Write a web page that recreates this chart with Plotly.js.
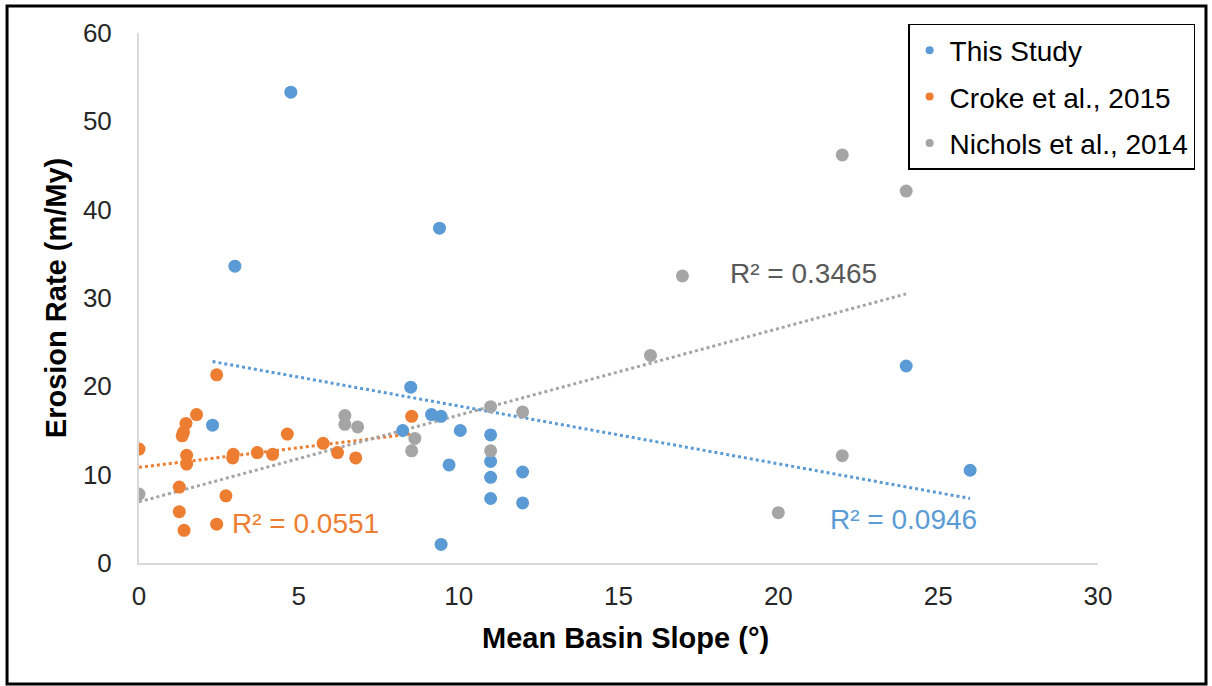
<!DOCTYPE html>
<html>
<head>
<meta charset="utf-8">
<script src="https://cdn.plot.ly/plotly-3.0.1.min.js"></script>
<style>
  html, body { margin: 0; padding: 0; background: #fff; }
  #chart { width: 1212px; height: 686px; }
</style>
</head>
<body>
<div id="chart"></div>
<script>
// ---- Data ----
const seriesNames = ["This Study", "Croke et al., 2015", "Nichols et al., 2014"];
const seriesColors = ["#5B9BD5", "#ED7D31", "#A5A5A5"];

const thisStudyX = [4.75, 3.0, 9.4, 2.3, 8.5, 8.25, 9.15, 9.45, 10.05, 11.0, 9.7, 11.0, 11.0, 12.0, 11.0, 12.0, 9.45, 24.0, 26.0];
const thisStudyY = [53.3, 33.6, 37.9, 15.6, 19.9, 15.0, 16.8, 16.6, 15.0, 14.5, 11.1, 11.5, 9.7, 10.3, 7.3, 6.8, 2.1, 22.3, 10.5];

const crokeX = [0, 2.43, 1.8, 1.47, 1.39, 1.35, 1.49, 1.49, 2.95, 2.93, 3.7, 4.18, 4.64, 5.76, 6.21, 6.78, 8.53, 1.26, 2.72, 1.26, 1.41, 2.43];
const crokeY = [12.9, 21.3, 16.8, 15.8, 14.8, 14.4, 12.2, 11.2, 12.3, 11.9, 12.5, 12.3, 14.6, 13.55, 12.5, 11.9, 16.6, 8.6, 7.6, 5.8, 3.7, 4.4];

const nicholsX = [0, 6.44, 6.44, 6.84, 8.63, 8.53, 11.0, 12.0, 11.0, 22.0, 24.0, 17.0, 16.0, 22.0, 20.0];
const nicholsY = [7.8, 16.7, 15.7, 15.4, 14.1, 12.7, 17.7, 17.1, 12.7, 46.2, 42.1, 32.5, 23.5, 12.15, 5.7];

const r2Labels = ["R\u00b2 = 0.0946", "R\u00b2 = 0.0551", "R\u00b2 = 0.3465"];
const r2LabelX = [23.9, 5.22, 20.78];
const r2LabelY = [4.9, 4.5, 32.8];
const r2LabelColors = ["#5B9BD5", "#ED7D31", "#595959"];

const xTitle = "Mean Basin Slope (\u00b0)";
const yTitle = "Erosion Rate (m/My)";
const xTickVals = [0, 5, 10, 15, 20, 25, 30];
const yTickVals = [0, 10, 20, 30, 40, 50, 60];

// ---- Build traces ----
const allX = [thisStudyX, crokeX, nicholsX];
const allY = [thisStudyY, crokeY, nicholsY];

function linearFit(xs, ys) {
  const n = xs.length;
  const mx = xs.reduce((a, b) => a + b, 0) / n;
  const my = ys.reduce((a, b) => a + b, 0) / n;
  let sxy = 0, sxx = 0;
  for (let i = 0; i < n; i++) {
    sxy += (xs[i] - mx) * (ys[i] - my);
    sxx += (xs[i] - mx) * (xs[i] - mx);
  }
  const slope = sxy / sxx;
  return { slope: slope, intercept: my - slope * mx };
}

const traces = [];
// trendlines first (drawn under markers)
for (let s = 0; s < 3; s++) {
  const fit = linearFit(allX[s], allY[s]);
  const x0 = Math.min(...allX[s]);
  const x1 = Math.max(...allX[s]);
  traces.push({
    type: "scatter", mode: "lines",
    x: [x0, x1],
    y: [fit.intercept + fit.slope * x0, fit.intercept + fit.slope * x1],
    line: { color: seriesColors[s], width: 3, dash: "dot" },
    showlegend: false, hoverinfo: "skip"
  });
}
for (let s = 0; s < 3; s++) {
  traces.push({
    type: "scatter", mode: "markers",
    x: allX[s], y: allY[s],
    name: seriesNames[s],
    marker: { color: seriesColors[s], size: 13 },
    showlegend: false
  });
}
// legend entries (small markers like the reference)
for (let s = 0; s < 3; s++) {
  traces.push({
    type: "scatter", mode: "markers",
    x: [null], y: [null],
    name: seriesNames[s],
    legendgroup: "g" + s,
    marker: { color: seriesColors[s], size: 8 },
    showlegend: true
  });
}

const annotations = r2Labels.map((t, i) => ({
  x: r2LabelX[i], y: r2LabelY[i], xref: "x", yref: "y",
  text: t, showarrow: false,
  font: { size: 28, color: r2LabelColors[i], family: "Liberation Sans, Arial, sans-serif" }
}));
annotations.push({
  x: 0.507, y: -0.1415, xref: "paper", yref: "paper",
  xanchor: "center", yanchor: "middle",
  text: xTitle, showarrow: false,
  font: { size: 29, color: "#000000", weight: "bold", family: "Liberation Sans, Arial, sans-serif" }
});

const layout = {
  width: 1212, height: 686,
  margin: { l: 139, r: 114, t: 33, b: 123 },
  paper_bgcolor: "#ffffff", plot_bgcolor: "#ffffff",
  font: { family: "Liberation Sans, Arial, sans-serif", color: "#262626" },
  showlegend: true,
  legend: {
    x: 0.802, xanchor: "left", y: 1.017, yanchor: "top",
    bgcolor: "#ffffff", bordercolor: "#000000", borderwidth: 1.5,
    font: { size: 28, color: "#000000" },
    traceorder: "grouped", tracegroupgap: 7
  },
  xaxis: {
    range: [0, 30], tickvals: xTickVals, ticks: "",
    showline: true, linecolor: "#D9D9D9", linewidth: 2,
    showgrid: false, zeroline: false,
    tickfont: { size: 26, color: "#262626" },
    ticklabelstandoff: 9,
    automargin: false
  },
  yaxis: {
    range: [0, 60], tickvals: yTickVals, ticks: "",
    showline: true, linecolor: "#D9D9D9", linewidth: 2,
    showgrid: false, zeroline: false,
    tickfont: { size: 26, color: "#262626" },
    ticklabelstandoff: 20,
    title: { text: yTitle, standoff: 8,
             font: { size: 29, color: "#000000", weight: "bold" } },
    automargin: false
  },
  annotations: annotations,
  shapes: [{
    type: "rect", xref: "paper", yref: "paper",
    x0: -0.1376, x1: 1.1126, y0: -0.2283, y1: 1.051,
    line: { color: "#000000", width: 3 }, fillcolor: "rgba(0,0,0,0)",
    layer: "above"
  }]
};

Plotly.newPlot("chart", traces, layout, { staticPlot: true, displayModeBar: false });
</script>
</body>
</html>
